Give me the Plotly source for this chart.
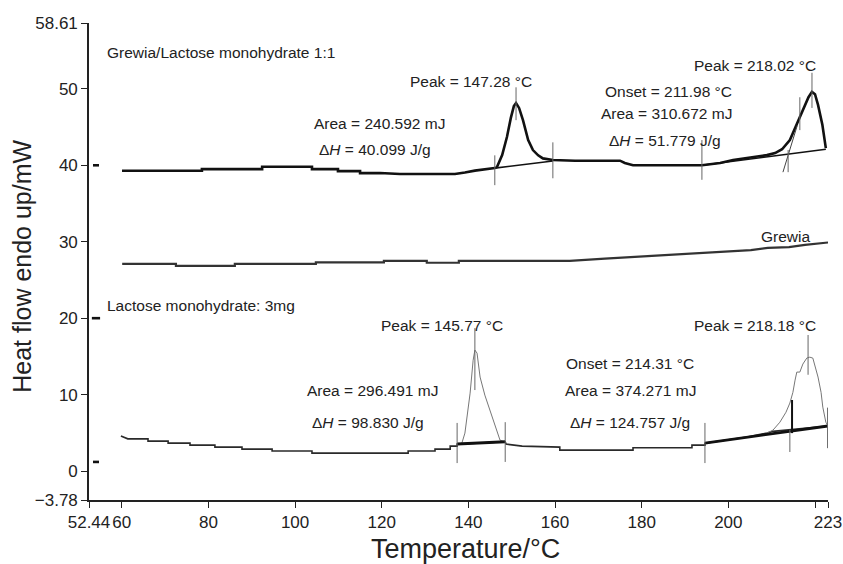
import plotly.graph_objects as go

# ---------------- data ----------------
# Grewia / Lactose monohydrate 1:1 (top curve)
mix_temp = [60.06, 78.5, 78.5, 92.4, 92.4, 103.9, 103.9, 109.9, 109.9, 115.0, 115.0, 119.6, 124.2,
            136.9, 139.2, 141.5, 146.1, 146.6, 147.8, 148.9, 149.8, 150.5, 151.0, 151.7, 152.6,
            153.8, 154.9, 156.1, 157.2, 159.5, 164.6, 175.0, 176.1, 178.0, 193.9, 198.1, 201.1,
            205.0, 208.9, 210.8, 212.4, 214.2, 215.8, 217.2, 218.5, 219.3, 220.0, 220.7, 221.7, 222.5]
mix_hf = [39.28, 39.28, 39.5, 39.5, 39.8, 39.8, 39.5, 39.5, 39.24, 39.24, 38.98, 39.0, 38.85,
          38.85, 39.05, 39.3, 39.63, 39.76, 41.33, 43.7, 46.2, 47.74, 48.14, 47.5, 45.9,
          43.3, 41.99, 41.3, 40.9, 40.7, 40.6, 40.6, 40.3, 40.0, 40.0, 40.3, 40.68,
          41.0, 41.33, 41.6, 42.1, 43.3, 45.3, 47.2, 48.9, 49.6, 49.3, 47.9, 45.3, 42.25]
mix_base1_temp = [146.1, 159.5]
mix_base1_hf = [39.63, 40.55]
mix_base2_temp = [193.9, 222.5]
mix_base2_hf = [40.0, 42.1]
mix_tangent_temp = [212.6, 215.9]
mix_tangent_hf = [39.1, 45.2]
# vertical marker ticks: (temperature, low, high)
mix_marks_temp = [146.1, 159.5, 151.0, 193.9, 213.8, 216.5, 219.3]
mix_marks_low = [37.4, 38.3, 45.9, 38.1, 39.1, 44.6, 47.5]
mix_marks_high = [41.3, 43.0, 50.2, 43.3, 42.0, 48.9, 52.1]

# Grewia (middle curve)
grewia_temp = [60.1, 72.5, 72.5, 86.1, 86.1, 104.8, 104.8, 120.5, 120.5, 130.4, 130.4, 137.8, 137.8,
               163.4, 171.5, 177.8, 184.0, 192.8, 199.7, 205.2, 209.1, 214.0, 217.7, 221.6, 223.0]
grewia_hf = [27.1, 27.1, 26.85, 26.85, 27.1, 27.1, 27.3, 27.3, 27.5, 27.5, 27.25, 27.25, 27.5,
             27.5, 27.8, 28.0, 28.25, 28.5, 28.7, 28.9, 29.2, 29.3, 29.6, 29.8, 29.9]

# Lactose monohydrate 3 mg (bottom curve, base line part)
lact_temp = [59.8, 61.4, 66.06, 66.06, 70.7, 70.7, 75.75, 75.75, 81.5, 81.5, 87.75, 87.75, 94.7, 94.7,
             103.9, 103.9, 126.1, 126.1, 132.3, 132.3, 135.8, 135.8, 137.4, 137.4, 148.5, 148.7,
             152.4, 161.1, 161.1, 178.0, 178.0, 191.6, 191.6, 194.6, 194.6, 199.7, 204.3, 208.9,
             210.3, 223.0]
lact_hf = [4.58, 4.22, 4.22, 3.92, 3.92, 3.66, 3.66, 3.4, 3.4, 3.14, 3.14, 2.88, 2.88, 2.62,
           2.62, 2.35, 2.35, 2.62, 2.62, 2.88, 2.88, 3.27, 3.27, 3.53, 3.83, 3.53,
           3.27, 3.14, 2.75, 2.75, 3.05, 3.05, 3.4, 3.4, 3.66, 4.05, 4.45, 4.97,
           5.2, 5.9]
lact_peak1_temp = [137.4, 138.5, 139.2, 140.4, 141.1, 141.5, 142.0, 142.7, 143.8, 145.0, 146.1, 147.3, 148.5]
lact_peak1_hf = [3.53, 3.66, 4.97, 10.2, 14.5, 15.83, 15.43, 12.3, 9.94, 7.98, 6.0, 4.05, 3.79]
lact_peak2_temp = [208.9, 210.3, 211.9, 213.3, 214.2, 214.9, 215.4, 215.8, 216.5, 217.2, 218.1,
                   218.8, 219.5, 220.2, 220.7, 221.4, 221.8, 222.5, 223.0]
lact_peak2_hf = [4.97, 5.36, 6.4, 7.7, 8.9, 10.3, 11.9, 12.95, 12.95, 14.0, 14.78,
                 14.9, 14.78, 13.5, 12.3, 10.3, 8.37, 6.4, 5.9]
lact_base1_temp = [137.4, 148.5]
lact_base1_hf = [3.53, 3.83]
lact_base2_temp = [194.6, 223.0]
lact_base2_hf = [3.66, 5.9]
lact_drop_temp = [214.7, 214.7]
lact_drop_hf = [4.97, 9.3]
lact_marks_temp = [137.4, 148.5, 141.5, 194.6, 214.2, 218.4, 222.9]
lact_marks_low = [1.05, 1.2, 10.6, 1.05, 2.5, 12.6, 3.0]
lact_marks_high = [6.3, 6.4, 18.7, 6.3, 5.4, 17.8, 8.3]

# curve origin markers near the y axis
origin_temp_start = [53.36, 53.1, 53.36]
origin_temp_end = [54.75, 55.0, 54.75]
origin_hf = [40.0, 20.0, 1.2]

# axes
x_range = [52.44, 223]
y_range = [-3.78, 58.61]
x_tickvals = [52.44, 60, 80, 100, 120, 140, 160, 180, 200, 220, 223]
x_ticktext = ["52.44", "60", "80", "100", "120", "140", "160", "180", "200", "", "223"]
y_tickvals = [-3.78, 0, 10, 20, 30, 40, 50, 58.61]
y_ticktext = ["\u22123.78", "0", "10", "20", "30", "40", "50", "58.61"]
x_title = "Temperature/°C"
y_title = "Heat flow endo up/mW"

# annotation texts and anchor positions (data units)
labels = [
    ("Grewia/Lactose monohydrate 1:1", 56.13, 54.8, "left"),
    ("Peak = 147.28 °C", 140.6, 51.0, "center"),
    ("Area = 240.592 mJ", 119.6, 45.5, "center"),
    ("\u0394<i>H</i> = 40.099 J/g", 118.4, 42.0, "center"),
    ("Onset = 211.98 °C", 186.1, 49.6, "center"),
    ("Area = 310.672 mJ", 185.8, 46.8, "center"),
    ("\u0394<i>H</i> = 51.779 J/g", 185.4, 43.3, "center"),
    ("Peak = 218.02 °C", 206.1, 53.1, "center"),
    ("Grewia", 213.1, 30.7, "center"),
    ("Lactose monohydrate: 3mg", 56.13, 21.7, "left"),
    ("Peak = 145.77 °C", 133.9, 19.0, "center"),
    ("Area = 296.491 mJ", 117.8, 10.5, "center"),
    ("\u0394<i>H</i> = 98.830 J/g", 116.8, 6.4, "center"),
    ("Onset = 214.31 °C", 177.3, 14.1, "center"),
    ("Area = 374.271 mJ", 177.5, 10.5, "center"),
    ("\u0394<i>H</i> = 124.757 J/g", 177.3, 6.4, "center"),
    ("Peak = 218.18 °C", 206.1, 19.1, "center"),
]

FONT = "Liberation Sans, Arial, Helvetica, sans-serif"


def segments(xs, lows, highs):
    sx, sy = [], []
    for x, lo, hi in zip(xs, lows, highs):
        sx += [x, x, None]
        sy += [lo, hi, None]
    return sx, sy


def hsegments(x0s, x1s, ys):
    sx, sy = [], []
    for a, b, y in zip(x0s, x1s, ys):
        sx += [a, b, None]
        sy += [y, y, None]
    return sx, sy


fig = go.Figure()

def line(x, y, color, width, name):
    fig.add_trace(go.Scatter(x=x, y=y, mode="lines", name=name,
                             line=dict(color=color, width=width),
                             hoverinfo="skip", showlegend=False))

# top curve
line(mix_temp, mix_hf, "#111111", 2.6, "Grewia/Lactose 1:1")
line(mix_base1_temp, mix_base1_hf, "#111111", 1.6, "baseline")
line(mix_base2_temp, mix_base2_hf, "#111111", 1.6, "baseline")
line(mix_tangent_temp, mix_tangent_hf, "#444444", 1.0, "tangent")
mx, my = segments(mix_marks_temp, mix_marks_low, mix_marks_high)
line(mx, my, "#666666", 1.0, "marks")

# middle curve
line(grewia_temp, grewia_hf, "#333333", 2.2, "Grewia")

# bottom curve
line(lact_temp, lact_hf, "#2a2a2a", 1.6, "Lactose monohydrate")
line(lact_peak1_temp, lact_peak1_hf, "#777777", 1.0, "peak")
line(lact_peak2_temp, lact_peak2_hf, "#777777", 1.0, "peak")
line(lact_base1_temp, lact_base1_hf, "#111111", 3.0, "baseline")
line(lact_base2_temp, lact_base2_hf, "#111111", 2.8, "baseline")
line(lact_drop_temp, lact_drop_hf, "#111111", 2.0, "drop")
lx, ly = segments(lact_marks_temp, lact_marks_low, lact_marks_high)
line(lx, ly, "#666666", 1.0, "marks")

# origin markers
ox, oy = hsegments(origin_temp_start, origin_temp_end, origin_hf)
line(ox, oy, "#111111", 2.6, "origins")

annotations = []
for text, x, y, anchor in labels:
    annotations.append(dict(text=text, x=x, y=y, xref="x", yref="y", showarrow=False,
                            xanchor=anchor, yanchor="middle",
                            font=dict(family=FONT, size=15.5, color="#222222")))

# axis titles placed as paper-referenced text
annotations.append(dict(text=x_title, xref="paper", yref="paper", x=0.510, y=-0.103,
                        xanchor="center", yanchor="middle", showarrow=False,
                        font=dict(family=FONT, size=27, color="#222222")))
annotations.append(dict(text=y_title, xref="paper", yref="paper", x=-0.0907, y=0.491,
                        xanchor="center", yanchor="middle", showarrow=False, textangle=-90,
                        font=dict(family=FONT, size=25, color="#222222")))

fig.update_layout(
    width=843, height=564,
    margin=dict(l=89, r=15, t=23, b=64),
    paper_bgcolor="white", plot_bgcolor="white",
    font=dict(family=FONT, color="#222222"),
    annotations=annotations,
    xaxis=dict(range=x_range, tickmode="array", tickvals=x_tickvals, ticktext=x_ticktext,
               automargin=False, ticklabeloverflow="allow", tickangle=0,
               showgrid=False, zeroline=False, showline=True, linecolor="#222222", linewidth=1.6,
               ticks="outside", ticklen=6, tickwidth=1.4, tickcolor="#222222",
               tickfont=dict(family=FONT, size=17, color="#222222")),
    yaxis=dict(range=y_range, tickmode="array", tickvals=y_tickvals, ticktext=y_ticktext,
               automargin=False, ticklabeloverflow="allow",
               showgrid=False, zeroline=False, showline=True, linecolor="#222222", linewidth=1.6,
               ticks="outside", ticklen=6, tickwidth=1.4, tickcolor="#222222",
               tickfont=dict(family=FONT, size=17, color="#222222")),
)

# remove the default page margin so the figure fills the 843x564 window exactly
fig.write_html("out.html", config={"displayModeBar": False},
               post_script="document.body.style.margin='0';document.body.style.overflow='hidden';")
